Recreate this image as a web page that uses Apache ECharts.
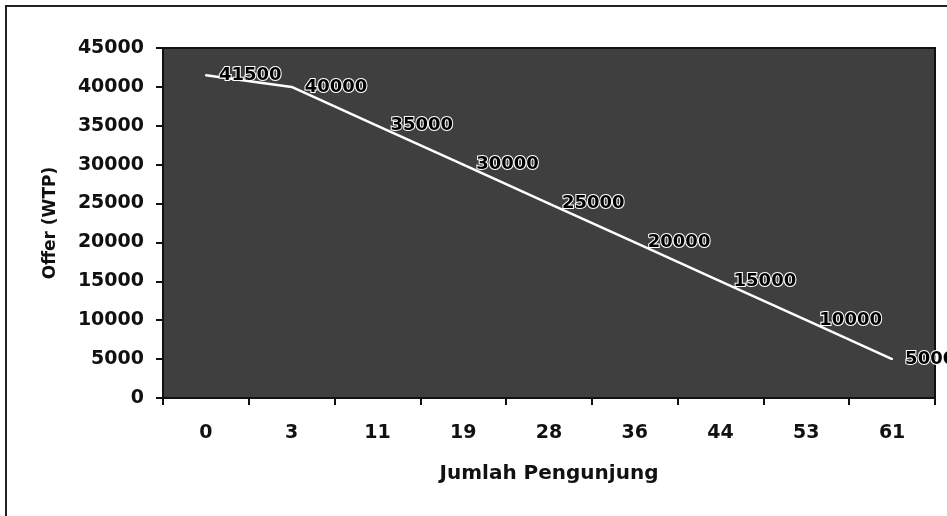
<!DOCTYPE html>
<html>
<head>
<meta charset="utf-8">
<script src="https://cdn.jsdelivr.net/npm/echarts@6/dist/echarts.min.js"></script>
<style>
  html, body { margin: 0; padding: 0; background: #ffffff; }
  #chart { width: 947px; height: 516px; }
</style>
</head>
<body>
<div id="chart"></div>
<script>
// Visitor counts on the category axis and the matching offer (WTP) values
const visitors = ['0', '3', '11', '19', '28', '36', '44', '53', '61'];
const offers = [41500, 40000, 35000, 30000, 25000, 20000, 15000, 10000, 5000];
const yMin = 0;
const yMax = 45000;
const yStep = 5000;

const chart = echarts.init(document.getElementById('chart'), null, { renderer: 'canvas' });

const tickFont = {
  color: '#111111',
  fontFamily: 'DejaVu Sans',
  fontWeight: 'bold',
  fontSize: 19
};

chart.setOption({
  animation: false,
  backgroundColor: '#ffffff',
  graphic: [
    {
      // outer chart frame (left and top edges)
      type: 'polyline',
      shape: { points: [[6, 516], [6, 6], [947, 6]] },
      style: { stroke: '#222222', lineWidth: 2, fill: null },
      silent: true
    }
  ],
  grid: {
    left: 163,
    right: 12,
    top: 48,
    bottom: 118,
    show: true,
    backgroundColor: '#3f3f3f',
    borderColor: '#111111',
    borderWidth: 2
  },
  xAxis: {
    type: 'category',
    data: visitors,
    boundaryGap: true,
    name: 'Jumlah Pengunjung',
    nameLocation: 'middle',
    nameGap: 66,
    nameTextStyle: {
      color: '#111111',
      fontFamily: 'DejaVu Sans',
      fontWeight: 'bold',
      fontSize: 20
    },
    axisLine: { show: true, lineStyle: { color: '#111111', width: 2 } },
    axisTick: { show: true, inside: false, length: 7, alignWithLabel: false, lineStyle: { color: '#111111', width: 2 } },
    axisLabel: Object.assign({ margin: 26 }, tickFont),
    splitLine: { show: false }
  },
  yAxis: {
    type: 'value',
    min: yMin,
    max: yMax,
    interval: yStep,
    name: 'Offer (WTP)',
    nameLocation: 'middle',
    nameRotate: 90,
    nameGap: 104,
    nameTextStyle: {
      color: '#111111',
      fontFamily: 'DejaVu Sans',
      fontWeight: 'bold',
      fontSize: 17
    },
    axisLine: { show: true, lineStyle: { color: '#111111', width: 2 } },
    axisTick: { show: true, inside: false, length: 7, lineStyle: { color: '#111111', width: 2 } },
    axisLabel: Object.assign({ margin: 19, formatter: function (v) { return String(v); } }, tickFont),
    splitLine: { show: false }
  },
  series: [
    {
      type: 'line',
      data: offers,
      symbol: 'circle',
      symbolSize: 2,
      showSymbol: true,
      itemStyle: { color: '#ffffff' },
      lineStyle: { color: '#ffffff', width: 2.5 },
      clip: false,
      label: {
        show: true,
        position: 'right',
        distance: 12,
        color: '#000000',
        fontFamily: 'DejaVu Sans',
        fontWeight: 'bold',
        fontSize: 18,
        textBorderColor: '#ffffff',
        textBorderWidth: 2
      }
    }
  ]
});
</script>
</body>
</html>
